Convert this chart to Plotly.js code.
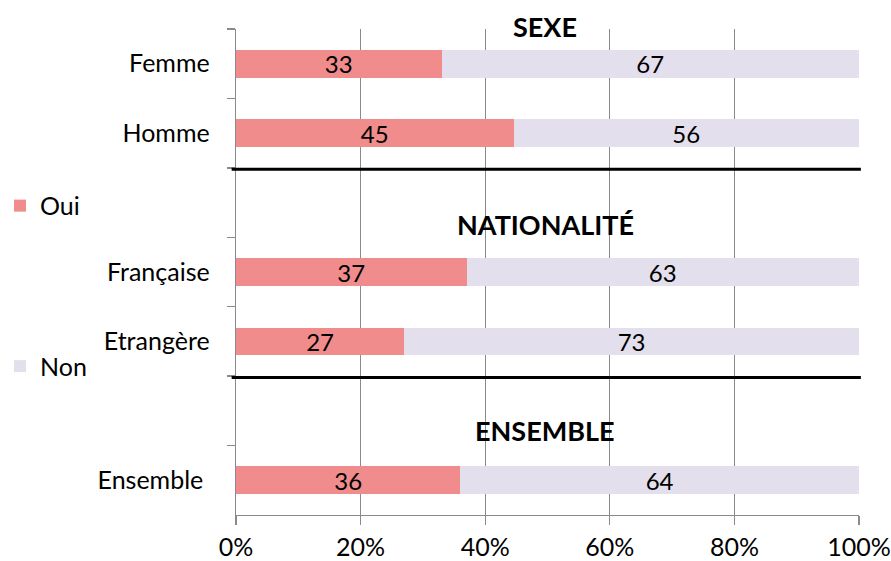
<!DOCTYPE html>
<html>
<head>
<meta charset="utf-8">
<script src="https://cdn.plot.ly/plotly-3.0.1.min.js"></script>
<style>
  html, body { margin: 0; padding: 0; background: #fff; }
  #chart { width: 891px; height: 561px; }
</style>
</head>
<body>
<div id="chart"></div>
<script>
// Rows from top to bottom; the two blank rows hold the section headings.
var categories = ['Femme', 'Homme', ' ', 'Française', 'Etrangère', '  ', 'Ensemble\u00a0'];
var ouiValues = [33, 45, null, 37, 27, null, 36];
var nonValues = [67, 56, null, 63, 73, null, 64];
var xTickValues = [0, 20, 40, 60, 80, 100];
var xTickLabels = ['0%', '20%', '40%', '60%', '80%', '100%'];
var sectionTitles = ['SEXE', 'NATIONALITÉ', 'ENSEMBLE'];
var sectionRows = [-0.53, 2.31, 5.28];   // in row units, 0 = first row
var separatorRows = [1.52, 4.52];

var FONT = 'Lato, "Liberation Sans", sans-serif';
var GREY = '#8a8a8a';
var nRows = categories.length;

function labels(vals) {
  return vals.map(function (v) { return v === null ? '' : String(v); });
}

function barTrace(name, vals, color) {
  return {
    type: 'bar', orientation: 'h', name: name, legendgroup: name,
    y: categories, x: vals, text: labels(vals),
    marker: { color: color },
    textposition: 'inside', insidetextanchor: 'middle',
    textangle: 0, constraintext: 'none',
    textfont: { color: '#000', size: 24, family: FONT },
    hoverinfo: 'none'
  };
}

var traces = [
  barTrace('Oui', ouiValues, '#F08C8C'),
  barTrace('Non', nonValues, '#E4DFEC')
];

// Section headings, placed by row in the plot's vertical extent
var annotations = sectionTitles.map(function (t, i) {
  return {
    text: '<b>' + t + '</b>', xref: 'x', yref: 'paper',
    x: 49.6, y: 1 - (sectionRows[i] + 0.5) / nRows, showarrow: false,
    font: { family: FONT, size: 27, color: '#000' },
    xanchor: 'center', yanchor: 'middle'
  };
});

var shapes = separatorRows.map(function (r) {
  return {
    type: 'line', xref: 'paper', yref: 'y',
    x0: -0.007, x1: 1.003, y0: r, y1: r,
    line: { color: '#000', width: 3 }
  };
});

var layout = {
  width: 891, height: 561,
  margin: { l: 236, r: 32, t: 29, b: 46, pad: 0 },
  paper_bgcolor: '#fff', plot_bgcolor: '#fff',
  font: { family: FONT, size: 25, color: '#000' },
  barmode: 'stack', barnorm: 'percent', bargap: 0.6,
  showlegend: true,
  legend: {
    xref: 'container', yref: 'container',
    x: 0, xanchor: 'left', y: 0.674, yanchor: 'top',
    traceorder: 'grouped', tracegroupgap: 125,
    font: { family: FONT, size: 25, color: '#000' },
    itemwidth: 30, bgcolor: 'rgba(0,0,0,0)'
  },
  xaxis: {
    range: [0, 100], tickvals: xTickValues, ticktext: xTickLabels,
    showgrid: true, gridcolor: GREY, gridwidth: 1.3,
    showline: true, linecolor: GREY, linewidth: 1.3,
    ticks: 'outside', ticklen: 9, tickcolor: GREY, tickwidth: 1.3,
    ticklabelstandoff: 1,
    zeroline: false, fixedrange: true, automargin: false,
    tickfont: { family: FONT, size: 25, color: '#000' }
  },
  yaxis: {
    type: 'category', categoryorder: 'array', categoryarray: categories,
    range: [6.5, -0.5], autorange: false,
    showgrid: false, zeroline: false,
    showline: true, linecolor: GREY, linewidth: 1.3,
    ticks: 'outside', tickson: 'boundaries', ticklen: 8, tickcolor: GREY, tickwidth: 1.3,
    ticklabelstandoff: 20, automargin: false,
    tickfont: { family: FONT, size: 25, color: '#000' },
    fixedrange: true
  },
  annotations: annotations,
  shapes: shapes
};

Plotly.newPlot('chart', traces, layout, { displayModeBar: false, staticPlot: true });
</script>
</body>
</html>
